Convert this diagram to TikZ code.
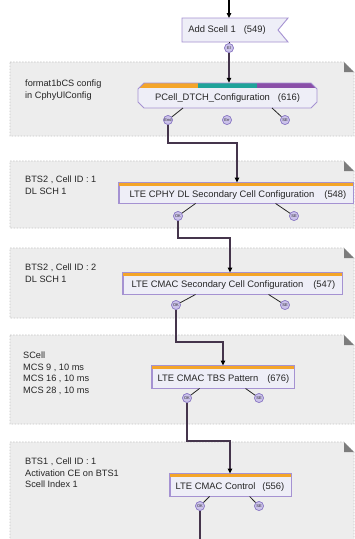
\documentclass[tikz,border=0pt]{standalone}
\usepackage{fontspec}
\setmainfont{Liberation Sans}
\usetikzlibrary{arrows.meta,calc}
\definecolor{grpfill}{HTML}{EDEDED}
\definecolor{grpline}{HTML}{C6C6C6}
\definecolor{foldcol}{HTML}{7C7C7C}
\definecolor{boxfill}{HTML}{EEEEF7}
\definecolor{boxline}{HTML}{A592D2}
\definecolor{orbar}{HTML}{F4A52A}
\definecolor{tealbar}{HTML}{1FA39A}
\definecolor{purbar}{HTML}{8A4FA8}
\definecolor{portfill}{HTML}{CBC2EA}
\definecolor{portline}{HTML}{8C7BC4}
\definecolor{conncol}{HTML}{45354C}
\definecolor{txt}{HTML}{262626}
\tikzset{
 grpbox/.style={fill=grpfill, draw=grpline, line width=0.6pt, dash pattern=on 1.5pt off 1.5pt},
 grptext/.style={anchor=north west, align=left, inner sep=0pt, font=\fontsize{9.2}{11.5}\selectfont, text=txt},
 boxnode/.style={draw=boxline, fill=boxfill, line width=0.9pt, inner sep=0pt, text=txt},
 boxtext/.style={inner sep=0pt, font=\fontsize{9.4}{11}\selectfont, text=txt},
 portnode/.style={circle, draw=portline, fill=portfill, line width=0.6pt, minimum size=9pt, inner sep=0pt, font=\fontsize{4}{4.5}\selectfont, text=txt},
 portlink/.style={draw=txt, line width=0.8pt},
 connline/.style={draw=conncol, line width=1.3pt, -{Triangle[length=5pt,width=4.5pt,color=black]}},
 plainline/.style={draw=conncol, line width=1.3pt},
}
\begin{document}
\begin{tikzpicture}[x=1pt,y=-1pt]
\useasboundingbox (0,0) rectangle (355,539);
\fill[white] (0,0) rectangle (355,539);
\begin{scope}
\clip (0,0) rectangle (355,539);
\foreach \t/\b in {62/136,161/228,248/318,335/424,442/560}{
  \path[grpbox] (10,\t) -- (344,\t) -- (354,\t+10) -- (354,\b) -- (10,\b) -- cycle;
  \fill[foldcol] (344,\t) -- (344,\t+10) -- (354,\t+10) -- cycle;
}
\end{scope}

% group texts
\node[grptext] (g1) at (25,80) {format1bCS config\\in CphyUlConfig};
\node[grptext] (g2) at (25,176) {BTS2 , Cell ID : 1\\DL SCH 1};
\node[grptext] (g3) at (25,264) {BTS2 , Cell ID : 2\\DL SCH 1};
\node[grptext] (g4) at (23,352) {SCell\\MCS 9 , 10 ms\\MCS 16 , 10 ms\\MCS 28 , 10 ms};
\node[grptext] (g5) at (25,458) {BTS1 , Cell ID : 1\\Activation CE on BTS1\\Scell Index 1};

% Add Scell flag
\path[draw=boxline, fill=boxfill, line width=0.9pt] (182,18) -- (288,18) -- (278,30) -- (288,42) -- (182,42) -- cycle;
\node[boxtext] (add) at (227,30) {Add Scell 1\hspace{8pt}(549)};
\coordinate (top) at (229,0);
\node[portnode] (pEl) at (229,48) {El};

% PCell octagon
\begin{scope}
\clip (144,83) -- (311,83) -- (317,89) -- (317,102) -- (311,108) -- (144,108) -- (138,102) -- (138,89) -- cycle;
\fill[boxfill] (138,83) rectangle (317,108);
\fill[orbar] (138,83) rectangle (198,87.5);
\fill[tealbar] (198,83) rectangle (257,87.5);
\fill[purbar] (257,83) rectangle (317,87.5);
\end{scope}
\draw[boxline, line width=0.9pt] (144,83) -- (311,83) -- (317,89) -- (317,102) -- (311,108) -- (144,108) -- (138,102) -- (138,89) -- cycle;
\node[boxtext, minimum width=179pt, minimum height=25pt] (pcell) at (227.5,95.5) {};
\node[boxtext] at (227.5,98) {PCell\_DTCH\_Configuration\hspace{8pt}(616)};
\node[portnode] (pEnd) at (168,120) {End};
\node[portnode] (pErr) at (227,120) {Err};
\node[portnode] (pSE1) at (285,120) {SE};

% CPHY
\node[boxnode, minimum width=234pt, minimum height=20pt] (cphy) at (236,193) {};
\fill[orbar] (cphy.north west) rectangle ($(cphy.north east)+(0,3.5)$);
\draw[boxline, line width=0.9pt] (cphy.north west) rectangle (cphy.south east);
\node[boxtext] at (238,195) {LTE CPHY DL Secondary Cell Configuration\hspace{10pt}(548)};
\node[portnode] (pOK2) at (178,216) {OK};
\node[portnode] (pSE2) at (294,216) {SE};

% CMAC secondary
\node[boxnode, minimum width=219pt, minimum height=21pt] (csec) at (232.5,283.5) {};
\fill[orbar] (csec.north west) rectangle ($(csec.north east)+(0,3.5)$);
\draw[boxline, line width=0.9pt] (csec.north west) rectangle (csec.south east);
\node[boxtext] at (233.5,285.5) {LTE CMAC Secondary Cell Configuration\hspace{10pt}(547)};
\node[portnode] (pOK3) at (176,305) {OK};
\node[portnode] (pSE3) at (285,305) {SE};

% TBS
\node[boxnode, minimum width=142pt, minimum height=22pt] (tbs) at (223,377) {};
\fill[orbar] (tbs.north west) rectangle ($(tbs.north east)+(0,3.5)$);
\draw[boxline, line width=0.9pt] (tbs.north west) rectangle (tbs.south east);
\node[boxtext] at (223.5,379) {LTE CMAC TBS Pattern\hspace{9pt}(676)};
\node[portnode] (pOK4) at (187,398) {OK};
\node[portnode] (pSE4) at (259,398) {SE};

% Control
\node[boxnode, minimum width=121pt, minimum height=22pt] (ctrl) at (230.5,485) {};
\fill[orbar] (ctrl.north west) rectangle ($(ctrl.north east)+(0,3.5)$);
\draw[boxline, line width=0.9pt] (ctrl.north west) rectangle (ctrl.south east);
\node[boxtext] at (230,487) {LTE CMAC Control\hspace{7pt}(556)};
\node[portnode] (pOK5) at (200,506) {OK};
\node[portnode] (pSE5) at (259,506) {SE};
\coordinate (bot) at (200,539);

% port links
\draw[portlink] (229,42) -- (pEl);
\draw[portlink] (183,108) -- (pEnd);
\draw[portlink] (272,108) -- (pSE1);
\draw[portlink] ($(cphy.south west)+(77,0)$) -- (pOK2);
\draw[portlink] ($(cphy.south west)+(157,0)$) -- (pSE2);
\draw[portlink] ($(csec.south west)+(73,0)$) -- (pOK3);
\draw[portlink] ($(csec.south west)+(146,0)$) -- (pSE3);
\draw[portlink] ($(tbs.south west)+(48,0)$) -- (pOK4);
\draw[portlink] ($(tbs.south west)+(94,0)$) -- (pSE4);
\draw[portlink] ($(ctrl.south west)+(40,0)$) -- (pOK5);
\draw[portlink] ($(ctrl.south west)+(80,0)$) -- (pSE5);

% connectors
\draw[line width=1.1pt, -{Triangle[length=5pt,width=4.5pt]}] (top) -- (229,18);
\draw[connline] (pEl) -- (pcell.north -| pEl);
\coordinate (j1) at (237,143);
\draw[connline] (pEnd) |- (j1) -- (j1 |- cphy.north);
\coordinate (j2) at (230,238);
\draw[connline] (pOK2) |- (j2) -- (j2 |- csec.north);
\coordinate (j3) at (223,342);
\draw[connline] (pOK3) |- (j3) -- (j3 |- tbs.north);
\coordinate (j4) at (230,441);
\draw[connline] (pOK4) |- (j4) -- (j4 |- ctrl.north);
\draw[plainline] (pOK5) -- (bot);
% redraw ports over links
\foreach \p/\l in {pEl/El,pEnd/End,pErr/Err,pSE1/SE,pOK2/OK,pSE2/SE,pOK3/OK,pSE3/SE,pOK4/OK,pSE4/SE,pOK5/OK,pSE5/SE}{
  \node[portnode] at (\p) {\l};
}
\end{tikzpicture}
\end{document}
